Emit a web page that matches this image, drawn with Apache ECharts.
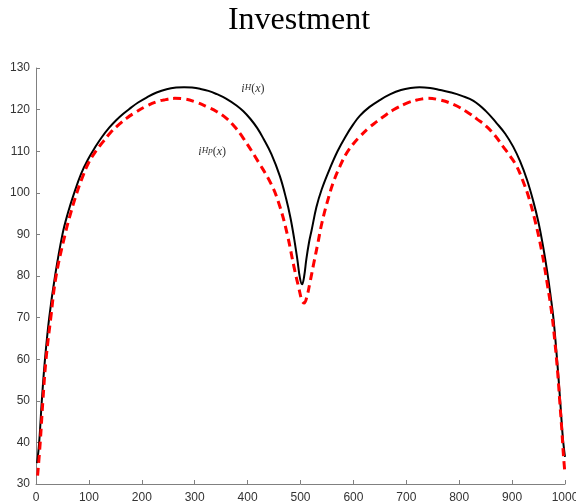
<!DOCTYPE html>
<html>
<head>
<meta charset="utf-8">
<script src="https://cdn.jsdelivr.net/npm/echarts@6/dist/echarts.min.js"></script>
<style>html,body{margin:0;padding:0;background:#fff}#c{width:576px;height:503px}</style>
</head>
<body>
<div id="c"></div>
<script>
// Black solid curve i^H(x)
var blackX = [2, 6, 11, 17, 25, 36, 50, 60, 71, 85, 99, 112, 124, 138, 152, 165, 178, 193, 209, 228, 247, 265, 280, 295, 310, 326, 342, 360, 379, 392, 405, 418, 430, 445, 461, 473, 481, 488, 494, 499, 503,
              507, 511, 516, 521, 530, 540, 556, 570, 585, 600, 612, 630, 650, 670, 690, 708, 725, 745, 764, 785, 805, 827, 850, 871, 887, 902, 915, 928, 940, 950, 959, 967, 973, 978, 983, 988, 992, 996, 1000];
var blackY = [35, 40, 50, 60, 70, 80, 90, 95, 99.5, 104.5, 108.2, 111, 113.3, 115.6, 117.5, 119, 120.3, 121.7, 122.9, 124.1, 124.9, 125.3, 125.4, 125.3, 125, 124.5, 123.7, 122.6, 121, 119.6, 117.8, 115.6, 113, 109.3, 104, 98.5, 94, 89, 84, 79.5, 78,
              80, 84, 88, 91, 96.5, 100.8, 106, 110, 113.5, 116.5, 118.5, 120.6, 122.3, 123.7, 124.7, 125.2, 125.4, 125.2, 124.7, 124.1, 123.3, 122.1, 119.7, 116.7, 114.2, 111.1, 107.6, 103.2, 98, 92.8, 86.8, 80.5, 75, 70, 63, 55, 48, 41, 36.5];
// Red dashed curve i^{Hp}(x)
var redX = [3, 8, 13, 19, 28, 38, 55, 66, 77, 88, 99, 113, 127, 141, 156, 172, 190, 208, 228, 245, 262, 278, 300, 323, 342, 360, 376, 392, 420, 445, 461, 475, 488, 497, 503, 507,
            512, 518, 525, 533, 540, 550, 562, 575, 587, 600, 612, 628, 644, 660, 675, 700, 720, 740, 764, 790, 814, 835, 852, 868, 883, 897, 909, 920, 931, 943, 956, 966, 975, 981, 986, 990, 994, 997, 1000];
var redY = [32, 40, 50, 60, 70, 80, 90, 95.3, 99.9, 103.8, 107.1, 110, 112.3, 114.5, 116.3, 118, 119.5, 120.8, 121.9, 122.4, 122.7, 122.6, 121.9, 120.7, 119.5, 117.9, 115.8, 113.1, 107.5, 102, 96.7, 90, 82, 77, 74, 73.5,
            75, 78.5, 83, 88, 92.5, 97.5, 102.5, 106.5, 109.5, 111.8, 113.5, 115.5, 117.1, 118.6, 119.9, 121.5, 122.3, 122.7, 122.3, 121.2, 119.5, 117.6, 115.9, 113.7, 111.1, 108.7, 106.3, 103, 99.1, 93.5, 86, 78.5, 71, 64, 57, 50, 43, 37, 32.4];
// Axis ticks
var xTicks = [0, 100, 200, 300, 400, 500, 600, 700, 800, 900, 1000];
var yTicks = [30, 40, 50, 60, 70, 80, 90, 100, 110, 120, 130];
var titleText = 'Investment';

function pairs(xs, ys) { return xs.map(function (x, i) { return [x, ys[i]]; }); }

var chart = echarts.init(document.getElementById('c'));
var labelRich = {
  i: { fontFamily: 'Liberation Serif', fontStyle: 'italic', fontSize: 12, color: '#333' },
  s: { fontFamily: 'Liberation Serif', fontStyle: 'italic', fontSize: 9, color: '#333', verticalAlign: 'top' },
  p: { fontFamily: 'Liberation Serif', fontSize: 12, color: '#333' }
};
chart.setOption({
  animation: false,
  title: {
    text: titleText, left: 294, top: 0, textAlign: 'center',
    textStyle: { fontFamily: 'Liberation Serif', fontWeight: 'normal', fontSize: 32, color: '#000' }
  },
  grid: { left: 36, right: 11, top: 68, bottom: 19, containLabel: false, outerBoundsMode: 'none' },
  xAxis: {
    type: 'value', min: xTicks[0], max: xTicks[xTicks.length - 1], interval: 100,
    axisLine: { lineStyle: { color: '#808080', width: 1 } },
    axisTick: { inside: true, length: 4, lineStyle: { color: '#808080' } },
    axisLabel: { color: '#333', fontFamily: 'Liberation Sans', fontSize: 12, margin: 8, formatter: function (v) { return String(v); } },
    splitLine: { show: false }
  },
  yAxis: {
    type: 'value', min: yTicks[0], max: yTicks[yTicks.length - 1], interval: 10,
    axisLine: { show: true, lineStyle: { color: '#808080', width: 1 } },
    axisTick: { show: true, inside: true, length: 4, lineStyle: { color: '#808080' } },
    axisLabel: { color: '#333', fontFamily: 'Liberation Sans', fontSize: 12, margin: 6 },
    splitLine: { show: false }
  },
  series: [
    {
      name: 'iH', type: 'line', data: pairs(blackX, blackY), showSymbol: false, smooth: 0.4,
      lineStyle: { color: '#000', width: 2 }, z: 2,
      markPoint: {
        symbol: 'circle', symbolSize: 0,
        data: [{ coord: [410, 125], label: { show: true, position: 'inside', formatter: '{i|i}{s|H}{p|(}{i|x}{p|)}', rich: labelRich } },
               { coord: [333, 109.8], label: { show: true, position: 'inside', formatter: '{i|i}{s|Hp}{p|(}{i|x}{p|)}', rich: labelRich } }]
      }
    },
    {
      name: 'iHp', type: 'line', data: pairs(redX, redY), showSymbol: false, smooth: 0.4,
      lineStyle: { color: '#ff0000', width: 3, type: [8, 5] }, z: 3
    }
  ]
});
</script>
</body>
</html>
